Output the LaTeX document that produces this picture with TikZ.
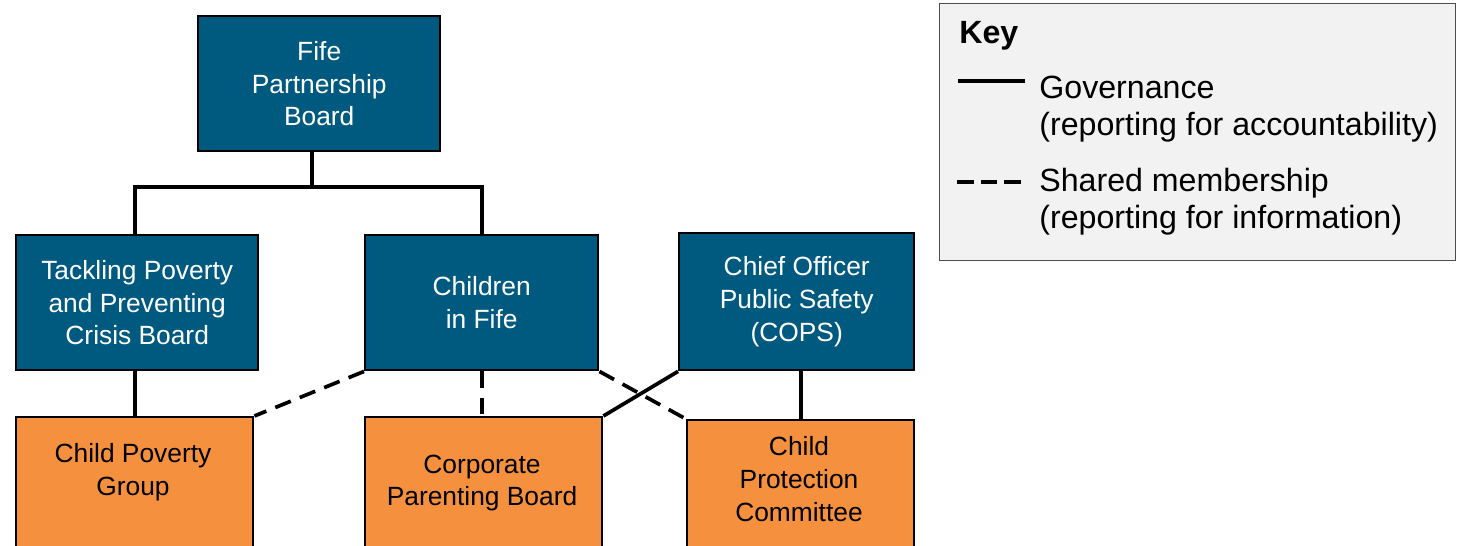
\documentclass[tikz,border=0pt]{standalone}
\usepackage{fontspec}
\setmainfont{Liberation Sans}
\usetikzlibrary{positioning}
\definecolor{fifeblue}{HTML}{005A80}
\definecolor{fifeorange}{HTML}{F5913E}
\definecolor{keygrey}{HTML}{F2F2F2}
\tikzset{
    every node/.append style={font=\fontsize{15}{18.7}\selectfont},
    board/.style={draw=black, line width=1.4pt, fill=fifeblue, text=white, align=center,
        inner sep=0pt, anchor=north west},
    group/.style={draw=black, line width=1.4pt, fill=fifeorange, inner sep=0pt, anchor=north west},
    grouptext/.style={align=center, inner sep=0pt},
    gov/.style={line width=2.1pt},
    shared/.style={line width=2.1pt, dash pattern=on 9.5pt off 5.5pt},
    keytext/.style={font=\fontsize{18.3}{21}\selectfont, align=left, anchor=west, inner sep=0pt}}

\begin{document}
\begin{tikzpicture}[x=0.02cm, y=-0.02cm]
    \clip (0,0) rectangle (1459,546);

    % boards
    \node (fife) [board, minimum width=4.84cm, minimum height=2.7cm] at (197,15) {Fife\\Partnership\\Board};
    \node (tpb) [board, minimum width=4.84cm, minimum height=2.7cm] at (15,234) {Tackling Poverty\\and Preventing\\Crisis Board};
    \node (cif) [board, minimum width=4.66cm, minimum height=2.7cm] at (364,234) {Children\\in Fife};
    \node (cops) [board, minimum width=4.7cm, minimum height=2.74cm] at (678,232) {Chief Officer\\Public Safety\\(COPS)};

    % groups (cut off at the bottom)
    \node (cpg) [group, minimum width=4.74cm, minimum height=3.4cm] at (15,416) {};
    \node (cpb) [group, minimum width=4.74cm, minimum height=3.4cm] at (364,416) {};
    \node (cpc) [group, minimum width=4.54cm, minimum height=3.4cm] at (686,419) {};
    \node (cpgtext) [grouptext] at (133,472) {Child Poverty\\Group};
    \node (cpbtext) [grouptext] at (482,483) {Corporate\\Parenting Board};
    \node (cpctext) [grouptext] at (799,479) {Child\\Protection\\Committee};

    \coordinate (fork) at (312,187);
    \draw[gov] (fork) -- (fork |- fife.south);
    \draw[gov] (tpb.north -| 135,0) |- (fork) -| (cif.north);
    \draw[gov] (tpb.south -| 135,0) -- (cpg.north -| 135,0);
    \draw[gov] (cpc.north |- cops.south) -- (cpc.north);
    \draw[gov] (cops.south west) -- (cpb.north east);

    \draw[shared] (cif.south west) -- (cpg.north east);
    \draw[shared] (cif.south) -- (cif.south |- cpb.north);
    \draw[shared] (cif.south east) -- (cpc.north west);

    % key
    \node (key) [draw=black!70, line width=0.6pt, fill=keygrey, minimum width=10.32cm, minimum height=5.14cm,
        anchor=north west] at (939,3) {};
    \node (keytitle) [keytext, font=\fontsize{18.3}{21}\selectfont\bfseries] at (959,36) {Key};
    \coordinate (govfrom) at (958,81);
    \coordinate (govto) at (1025,81);
    \coordinate (sharedfrom) at (957,182);
    \coordinate (sharedto) at (1023,182);
    \draw[gov] (govfrom) -- (govto);
    \draw[gov, dash pattern=on 9.5pt off 4pt] (sharedfrom) -- (sharedto);
    \node (govtext) [keytext] at (1039,109) {Governance\\(reporting for accountability)};
    \node (sharedtext) [keytext] at (1039,202) {Shared membership\\(reporting for information)};
\end{tikzpicture}
\end{document}
